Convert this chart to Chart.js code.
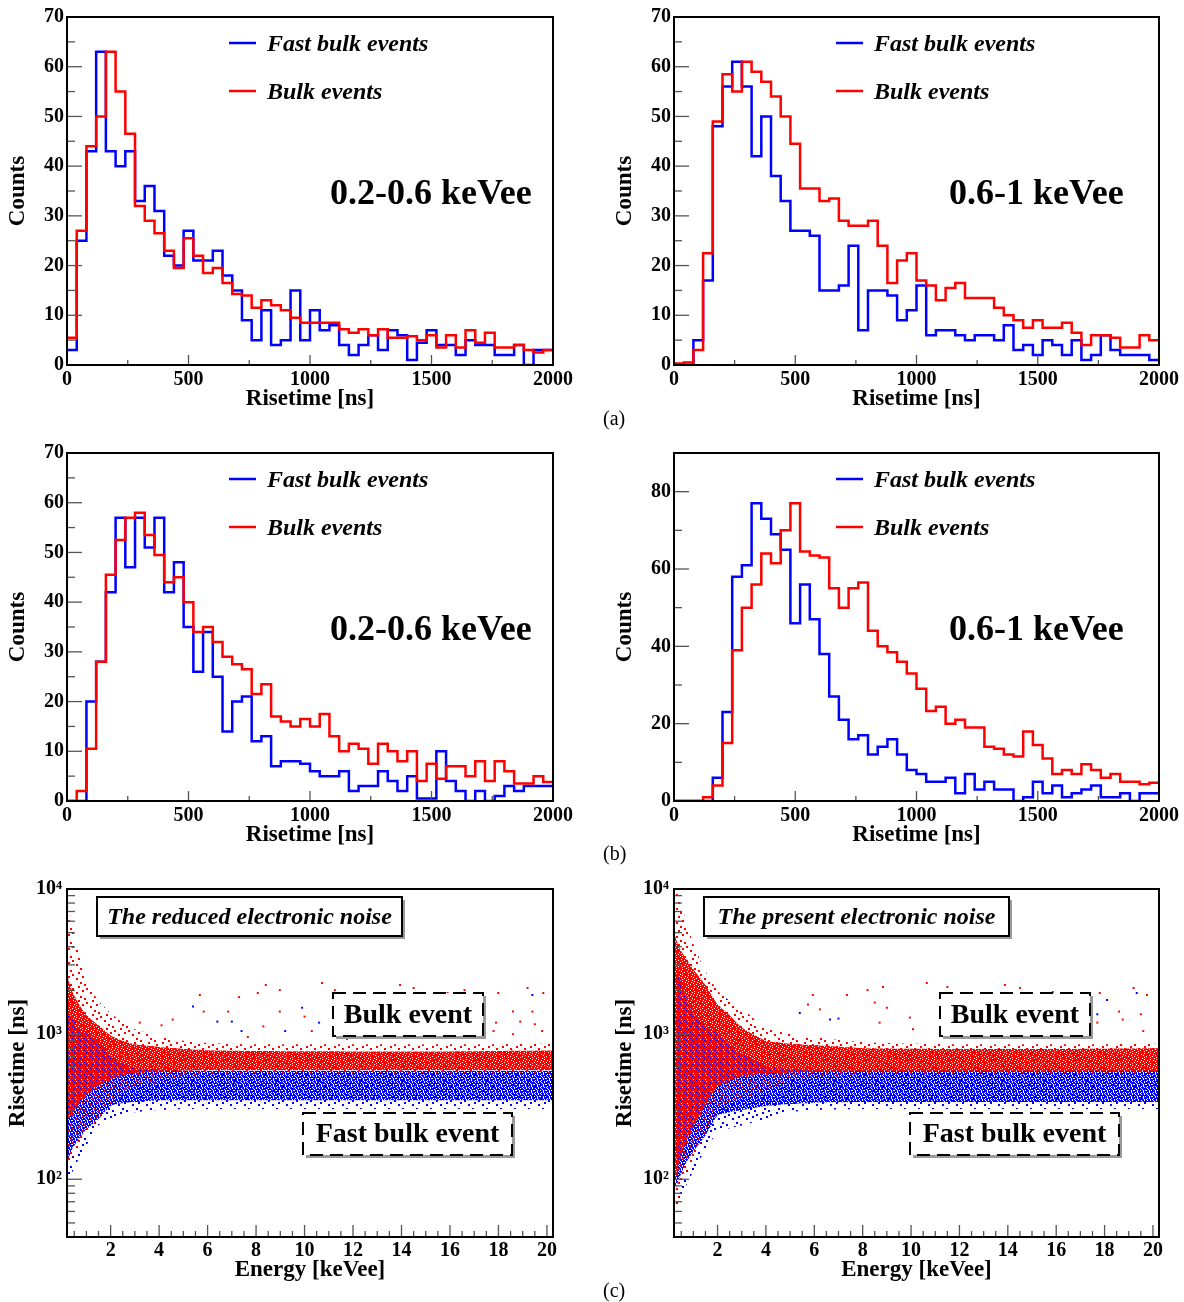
<!DOCTYPE html>
<html><head><meta charset="utf-8">
<script src="https://cdn.jsdelivr.net/npm/chart.js@4.4.1/dist/chart.umd.min.js"></script>
<style>
body{margin:0;background:#fff;width:1184px;height:1302px;position:relative;overflow:hidden;font-family:"Liberation Serif",serif}
canvas{position:absolute}
.sub{position:absolute;font:20px "Liberation Serif",serif;color:#000;line-height:24px;z-index:5}
</style></head><body>
<canvas id="c1" width="600" height="413" style="left:0;top:0"></canvas>
<canvas id="c2" width="584" height="413" style="left:600px;top:0"></canvas>
<canvas id="c3" width="600" height="413" style="left:0;top:436px"></canvas>
<canvas id="c4" width="584" height="413" style="left:600px;top:436px"></canvas>
<canvas id="c5" width="600" height="412" style="left:0;top:872px"></canvas>
<canvas id="c6" width="584" height="412" style="left:600px;top:872px"></canvas>
<div class="sub" style="left:603px;top:406px">(a)</div>
<div class="sub" style="left:603px;top:841px">(b)</div>
<div class="sub" style="left:603px;top:1278px">(c)</div>
<script>
// ---------------- DATA ----------------
const binStarts = [0,40,80,120,160,200,240,280,320,360,400,440,480,520,560,600,640,680,720,760,800,840,880,920,960,1000,1040,1080,1120,1160,1200,1240,1280,1320,1360,1400,1440,1480,1520,1560,1600,1640,1680,1720,1760,1800,1840,1880,1920,1960];
const binEnd = 2000;

// (a) left: 0.2-0.6 keVee
const aLeftFast = [3,25,43,63,43,40,43,33,36,31, 22,20,27,21,21,23,18,15,9,5, 11,4,5,15,5,11,7,8,4,2, 4,6,3,7,6,1,4.5,7,4,4, 2,5,4,4,2,2,4,0,3,3];
const aLeftBulk = [5.5,27,44,50,63,55,46.5,32,29,26.5, 23,19.5,25.5,22,18.5,19.5,16.5,14.3,14,11.5, 13,12,11,9.5,8.5,8.5,8.5,8.5,7.2,6.5, 7.2,6,7.2,5.5,5.5,5.8,5,6,3.5,6, 3.5,7,4.5,6.5,3.5,3.5,4,3,2.5,3];
// (a) right: 0.6-1 keVee
const aRightFast = [0,0,5,17,48,56,61,56,42,50, 38,33,27,27,26,15,15,16,24,7, 15,15,14,9,11,16,6,7,7,6, 5,6,6,5,8,3,4,2,5,4, 2,5,1,2,6,3,2,2,2,1];
const aRightBulk = [0.3,0.5,3,22.5,49,58.5,55,61,59,57, 54,50,44.5,35.5,35.5,33,33.5,29,28,28, 29,24,16.5,21,22.5,17,16,13,15.5,16.5, 13.5,13.5,13.5,11.5,10,9,7.5,9,7.5,7.5, 8.5,6.5,4,6,6,5.5,3.5,3.5,6,5];
// (b) left: 0.2-0.6 keVee
const bLeftFast = [0,0,20,28,42,57,47,57,51,57, 42,48,35,26,34,25,14,20,21,12, 13,7,8,8,7.5,6,5,5,6,2, 3,3,6,4,2,5,0.5,0.5,10,4, 2,0,2,0,1,3,2,3,3,3];
const bLeftBulk = [0,2,10.5,28,45.5,52.5,57,58,53.5,49.5, 44,45,40,34,35,32,29,27.5,26.5,21.5, 23.5,17,16,15,16.5,15,17.5,13,10,11.5, 10.5,7.5,11.5,10,8,10,4,7.5,4.5,7, 7,5,8,4,8,6,3.5,3.5,5,3.8];
// (b) right: 0.6-1 keVee
const bRightFast = [0,0,0,0,6,23,58,61,77,73, 69,65,46,56,47,38,27,21,16,17, 12,14,16,12,8,7,5,5,6,2, 7,3,5,3,3,0,1,5,2,4, 1,2,3,4,1,1,2,0,2,2];
const bRightBulk = [0,0,0,1,4,15,39,50,56,64, 61.5,70,77,64.5,63.5,63,55,50,55,56.5, 44,40,38.5,36,33,29,23.3,24.4,20,21, 19,19,14,13.5,12,11.5,18,14.5,11,7, 8,7,9.5,8,6,7,5,5,4.3,4.7];

// (c) scatter band envelopes (energy nodes in keVee, risetime in ns)
const scatE = [0.2,0.4,0.7,1.0,1.5,2.0,2.5,3.0,4.0,5.0,6.0,8.0,12.0,16.0,20.25];
// reduced noise (left)
const lRedFringeHi = [8000,6000,3500,2300,1700,1400,1200,1080,970,900,870,850,850,850,860];
const lRedCoreHi   = [2600,2000,1600,1350,1150,980,900,850,815,790,775,765,760,760,770];
const lRedCoreLo   = [260,280,330,380,440,490,520,540,555,560,565,565,565,565,565];
const lRedFringeLo = [110,140,170,210,260,330,390,430,470,510,530,540,540,540,540];
const lBlueFringeHi = [6000,4000,2500,1700,1300,1100,950,850,700,640,620,610,610,610,610];
const lBlueCoreHi   = [1500,1300,1100,1000,900,700,620,580,560,560,560,560,560,560,560];
const lBlueCoreLo   = [130,160,190,220,260,320,335,340,350,350,350,350,350,350,350];
const lBlueFringeLo = [90,110,140,170,235,260,280,290,300,305,305,305,305,305,305];
// present noise (right)
const rRedFringeHi = [10000,9000,6000,4200,2700,2000,1650,1500,1100,1000,950,880,850,850,860];
const rRedCoreHi   = [5000,4000,3300,2800,2180,1600,1350,1110,900,860,840,800,790,790,800];
const rRedCoreLo   = [90,130,180,235,320,440,480,510,537,545,550,555,555,555,555];
const rRedFringeLo = [55,75,110,140,210,300,330,353,420,480,510,530,535,535,535];
const rBlueFringeHi = [8000,6000,4000,3300,2500,1950,1700,1400,900,700,650,620,610,610,610];
const rBlueCoreHi   = [3000,2500,1800,1365,1150,1000,850,733,600,570,560,560,560,560,560];
const rBlueCoreLo   = [80,100,130,155,200,275,290,300,320,330,337,340,340,340,340];
const rBlueFringeLo = [50,65,90,113,160,210,225,235,260,290,300,305,305,305,305];
// isolated events above the bands [energy, risetime]
const lOutRed = [[5.68,1860],[5.84,1430],[7.3,1800],[8.07,1920],[8.4,2180],[8.98,2010],[4.56,1260],[6.85,1430],[8.98,1430],[8.3,1130],[7.66,955],[10.72,2250],[11.25,2010],[12.57,1860],[13.94,2180],[14.5,2080],[15.9,1920],[16.6,2010],[17.99,1920],[19.2,2080],[19.85,1920],[10.0,1320],[10.3,1050],[18.6,1430],[18.9,1220],[19.4,1430],[19.5,1170],[19.8,1050],[17.8,1050],[17.9,1200],[18.6,1000],[12.2,1110],[14.7,955],[11.75,925],[3.2,1200],[4.1,1150]];
const lOutBlue = [[5.4,1550],[6.4,1220],[7.0,1220],[9.2,1050],[7.4,1050],[9.9,1520],[10.6,1200],[19.4,1860]];
const rOutRed = [[5.94,1860],[6.23,1480],[7.35,1860],[8.2,2010],[8.5,1650],[8.84,2110],[9.0,1520],[8.7,1200],[5.74,1600],[10.65,2250],[11.5,2110],[12.56,1860],[13.88,2180],[14.5,2080],[15.86,1950],[16.44,1860],[17.8,1920],[19.2,2080],[19.75,1860],[9.95,1300],[10.08,1080],[18.6,1430],[18.75,1260],[19.5,1370],[19.6,1050],[17.7,1200],[12.0,1000],[14.5,1030]];
const rOutBlue = [[5.4,1400],[6.65,1260],[7.0,1280],[19.33,1920],[18.1,1720],[17.7,1370]];

// tick labels / positions
const histXTicks = [0,500,1000,1500,2000];
const histXMinor = [250,750,1250,1750];
const histYTicks70 = [0,10,20,30,40,50,60,70];
const histYMinor70 = [5,15,25,35,45,55,65];
const histYTicks90 = [0,20,40,60,80];
const histYMinor90 = [10,30,50,70];
const scatXTicks = [2,4,6,8,10,12,14,16,18,20];
const scatXMinor = [0.5,1,1.5,2.5,3,3.5,4.5,5,5.5,6.5,7,7.5,8.5,9,9.5,10.5,11,11.5,12.5,13,13.5,14.5,15,15.5,16.5,17,17.5,18.5,19,19.5];
const scatYTicks = [100,1000,10000];
const scatYMinor = [50,60,70,80,90,200,300,400,500,600,700,800,900,2000,3000,4000,5000,6000,7000,8000,9000];
const scatYLabels = {100:'10²',1000:'10³',10000:'10⁴'};

// ---------------- STYLE ----------------
const FONT = "'Liberation Serif','Times New Roman',serif";
Chart.defaults.font.family = FONT;
Chart.defaults.color = '#000';
const BLUE = '#0000ff', RED = '#ff0000';

function makePattern(color, rows, cell){
  const h = rows.length, w = rows[0].length;
  const c = document.createElement('canvas'); c.width = w*cell; c.height = h*cell;
  const g = c.getContext('2d'); g.fillStyle = color;
  rows.forEach((r,j)=>{ for(let i=0;i<w;i++) if(r[i]==='#') g.fillRect(i*cell,j*cell,cell,cell); });
  return g.createPattern(c,'repeat');
}
const redCoreMask = ["##.###","####.#","#.####","###.##",".#####","####.#"];
const blueCoreMask = ["#.##.#","##.###",".##.#.","###.##","#.#.##",".###.#"];
const fringeMask = ["#......","....#..",".#.....","......#","...#...","#......".replace('#','.')+"", ".....#."].map(r=>r.padEnd(7,'.'));
const P = {
  redCore: makePattern(RED, redCoreMask, 1),
  blueCore: makePattern(BLUE, blueCoreMask, 1),
  redFringe: makePattern(RED, fringeMask, 2),
  blueFringe: makePattern(BLUE, fringeMask, 2)
};

const frameTicks = {
  id:'frameTicks',
  afterDraw(chart, args, o){
    const {ctx, chartArea:a, scales:{x,y}} = chart;
    ctx.save();
    ctx.strokeStyle = '#555'; ctx.lineWidth = 1.3;
    const vt = (v,len)=>{const p=x.getPixelForValue(v); ctx.beginPath(); ctx.moveTo(p,a.bottom); ctx.lineTo(p,a.bottom-len); ctx.stroke();};
    const ht = (v,len)=>{const p=y.getPixelForValue(v); ctx.beginPath(); ctx.moveTo(a.left,p); ctx.lineTo(a.left+len,p); ctx.stroke();};
    o.xMajor.forEach(v=>vt(v,o.xMajLen)); o.xMinor.forEach(v=>vt(v,o.xMinLen));
    o.yMajor.forEach(v=>ht(v,15)); o.yMinor.forEach(v=>ht(v,8));
    ctx.strokeStyle = '#000'; ctx.lineWidth = 2;
    ctx.strokeRect(a.left, a.top, a.right-a.left, a.bottom-a.top);
    ctx.restore();
  }
};

const annot = {
  id:'annot',
  afterDraw(chart, args, o){
    const ctx = chart.ctx, a = chart.chartArea;
    ctx.save();
    if (o.legend){
      chart.data.datasets.slice().reverse().forEach((ds,i)=>{
        const dy = o.legend.dy[i];
        ctx.strokeStyle = ds.borderColor; ctx.lineWidth = 2.5;
        ctx.beginPath(); ctx.moveTo(a.left+o.legend.x0, a.top+dy); ctx.lineTo(a.left+o.legend.x1, a.top+dy); ctx.stroke();
        ctx.fillStyle = '#000'; ctx.font = "italic bold 24px "+FONT; ctx.textBaseline='alphabetic'; ctx.textAlign='left';
        ctx.fillText(ds.label, a.left+o.legend.tx, a.top+dy+8);
      });
    }
    if (o.range){
      ctx.fillStyle='#000'; ctx.font = "bold 36px "+FONT; ctx.textBaseline='alphabetic'; ctx.textAlign='left';
      ctx.fillText(o.range.text, a.left+o.range.x, a.top+o.range.y);
    }
    (o.boxes||[]).forEach(b=>{
      const x=a.left+b.x, y=a.top+b.y;
      ctx.fillStyle='#9a9a9a'; ctx.fillRect(x+3,y+3,b.w,b.h);
      ctx.fillStyle='#fff'; ctx.fillRect(x,y,b.w,b.h);
      ctx.setLineDash(b.dash?[13,7]:[]); ctx.strokeStyle='#000'; ctx.lineWidth=2;
      ctx.strokeRect(x,y,b.w,b.h); ctx.setLineDash([]);
      ctx.font=b.font; ctx.fillStyle='#000'; ctx.textAlign='center'; ctx.textBaseline='middle';
      ctx.fillText(b.text, x+b.w/2, y+b.h/2+1);
    });
    ctx.restore();
  }
};

function stepData(vals){
  const d = binStarts.map((x,i)=>({x, y: vals[i]}));
  d.push({x: binEnd, y: vals[vals.length-1]});
  return d;
}

function histChart(id, fast, bulk, right, yMax, yTicks, yMinor, rangeText, rangeX){
  new Chart(document.getElementById(id), {
    type:'line',
    data:{datasets:[
      {label:'Bulk events', data:stepData(bulk), stepped:true, borderColor:RED, borderWidth:2.5, pointRadius:0, fill:false},
      {label:'Fast bulk events', data:stepData(fast), stepped:true, borderColor:BLUE, borderWidth:2.5, pointRadius:0, fill:false}
    ]},
    options:{
      responsive:false, animation:false, events:[],
      layout:{padding:{left:0, top:17, right: right?25:47, bottom:0}},
      plugins:{legend:{display:false}, tooltip:{enabled:false},
        frameTicks:{xMajor:histXTicks, xMinor:histXMinor, xMajLen:10, xMinLen:5, yMajor:yTicks, yMinor:yMinor},
        annot:{legend:{x0:162, x1:189, tx:200, dy:[26,74]}, range:{text:rangeText, x:rangeX, y:187}}
      },
      scales:{
        x:{type:'linear', min:0, max:2000,
           afterBuildTicks:s=>{s.ticks = histXTicks.map(v=>({value:v}));},
           afterFit:s=>{s.height=48;},
           grid:{display:false, drawTicks:false}, border:{display:false},
           ticks:{font:{size:20, weight:'bold'}, padding:3, maxRotation:0, autoSkip:false, callback:v=>String(v)},
           title:{display:true, text:'Risetime [ns]', font:{size:23, weight:'bold'}, padding:{top:0,bottom:0}}},
        y:{type:'linear', min:0, max:yMax,
           afterBuildTicks:s=>{s.ticks = yTicks.map(v=>({value:v}));},
           afterFit:s=>{s.width = right?74:67;},
           grid:{display:false, drawTicks:false}, border:{display:false},
           ticks:{font:{size:20, weight:'bold'}, padding:3, autoSkip:false, callback:v=>String(v)},
           title:{display:true, text:'Counts', font:{size:23, weight:'bold'}, padding:{top: right?11:4, bottom:0}}}
      }
    },
    plugins:[frameTicks, annot]
  });
}

function band(vals){ return scatE.map((e,i)=>({x:e, y:vals[i]})); }
function pts(arr){ return arr.map(p=>({x:p[0], y:p[1]})); }

function scatChart(id, right, S, title){
  const lineBase = {type:'line', pointRadius:0, borderWidth:0, tension:0.15, borderColor:'rgba(0,0,0,0)'};
  new Chart(document.getElementById(id), {
    type:'scatter',
    data:{datasets:[
      {label:'Bulk event', data:pts(S.outRed), backgroundColor:RED, borderColor:RED, pointStyle:'rect', pointRadius:1.4, borderWidth:0},
      {label:'Fast bulk event', data:pts(S.outBlue), backgroundColor:BLUE, borderColor:BLUE, pointStyle:'rect', pointRadius:1.4, borderWidth:0},
      Object.assign({label:'Bulk core lo', data:band(S.redCoreLo), fill:false}, lineBase),
      Object.assign({label:'Bulk core hi', data:band(S.redCoreHi), fill:'-1', backgroundColor:P.redCore}, lineBase),
      Object.assign({label:'Bulk fringe lo', data:band(S.redFringeLo), fill:false}, lineBase),
      Object.assign({label:'Bulk fringe hi', data:band(S.redFringeHi), fill:'-1', backgroundColor:P.redFringe}, lineBase),
      Object.assign({label:'Fast core lo', data:band(S.blueCoreLo), fill:false}, lineBase),
      Object.assign({label:'Fast core hi', data:band(S.blueCoreHi), fill:'-1', backgroundColor:P.blueCore}, lineBase),
      Object.assign({label:'Fast fringe lo', data:band(S.blueFringeLo), fill:false}, lineBase),
      Object.assign({label:'Fast fringe hi', data:band(S.blueFringeHi), fill:'-1', backgroundColor:P.blueFringe}, lineBase)
    ]},
    options:{
      responsive:false, animation:false, events:[],
      layout:{padding:{left:0, top:17, right: right?25:47, bottom:0}},
      plugins:{legend:{display:false}, tooltip:{enabled:false},
        filler:{propagate:false},
        frameTicks:{xMajor:scatXTicks, xMinor:scatXMinor, xMajLen:12, xMinLen:6, yMajor:scatYTicks, yMinor:scatYMinor},
        annot:{boxes:[
          {x:30, y:8, w:305, h:39, text:title, font:"italic bold 24px "+FONT, dash:false},
          {x:266, y:104, w:150, h:43, text:'Bulk event', font:"bold 28px "+FONT, dash:true},
          {x:236, y:224, w:209, h:42, text:'Fast bulk event', font:"bold 28px "+FONT, dash:true}
        ]}
      },
      scales:{
        x:{type:'linear', min:0.2, max:20.25,
           afterBuildTicks:s=>{s.ticks = scatXTicks.map(v=>({value:v}));},
           afterFit:s=>{s.height=47;},
           grid:{display:false, drawTicks:false}, border:{display:false},
           ticks:{font:{size:20, weight:'bold'}, padding:2, maxRotation:0, autoSkip:false, callback:v=>String(v)},
           title:{display:true, text:'Energy [keVee]', font:{size:23, weight:'bold'}, padding:{top:0,bottom:0}}},
        y:{type:'logarithmic', min:40, max:10000,
           afterBuildTicks:s=>{s.ticks = scatYTicks.map(v=>({value:v}));},
           afterFit:s=>{s.width = right?74:67;},
           grid:{display:false, drawTicks:false}, border:{display:false},
           ticks:{font:{size:20, weight:'bold'}, padding:5, autoSkip:false, callback:v=>scatYLabels[v]||''},
           title:{display:true, text:'Risetime [ns]', font:{size:23, weight:'bold'}, padding:{top: right?11:4, bottom:0}}}
      }
    },
    plugins:[frameTicks, annot]
  });
}

histChart('c1', aLeftFast, aLeftBulk, false, 70, histYTicks70, histYMinor70, '0.2-0.6 keVee', 263);
histChart('c2', aRightFast, aRightBulk, true, 70, histYTicks70, histYMinor70, '0.6-1 keVee', 275);
histChart('c3', bLeftFast, bLeftBulk, false, 70, histYTicks70, histYMinor70, '0.2-0.6 keVee', 263);
histChart('c4', bRightFast, bRightBulk, true, 90, histYTicks90, histYMinor90, '0.6-1 keVee', 275);
scatChart('c5', false, {redCoreLo:lRedCoreLo, redCoreHi:lRedCoreHi, redFringeLo:lRedFringeLo, redFringeHi:lRedFringeHi,
  blueCoreLo:lBlueCoreLo, blueCoreHi:lBlueCoreHi, blueFringeLo:lBlueFringeLo, blueFringeHi:lBlueFringeHi, outRed:lOutRed, outBlue:lOutBlue}, 'The reduced electronic noise');
scatChart('c6', true, {redCoreLo:rRedCoreLo, redCoreHi:rRedCoreHi, redFringeLo:rRedFringeLo, redFringeHi:rRedFringeHi,
  blueCoreLo:rBlueCoreLo, blueCoreHi:rBlueCoreHi, blueFringeLo:rBlueFringeLo, blueFringeHi:rBlueFringeHi, outRed:rOutRed, outBlue:rOutBlue}, 'The present electronic noise');
</script>
</body></html>
